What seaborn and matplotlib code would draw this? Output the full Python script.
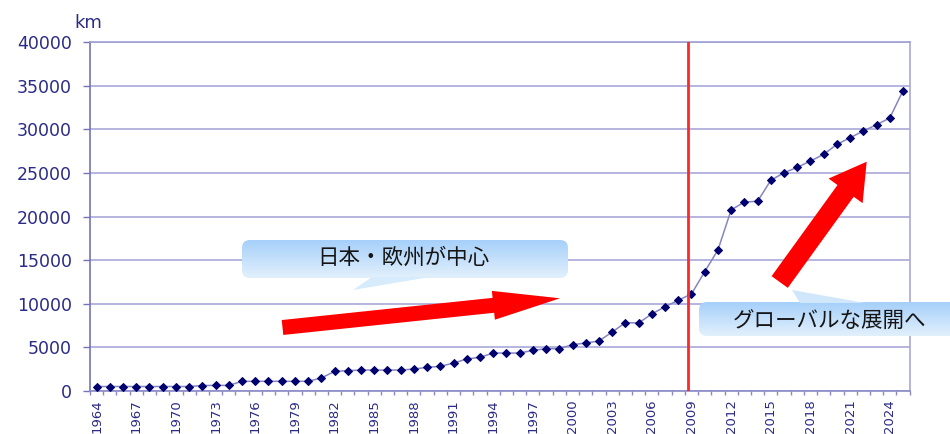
import numpy as np
import pandas as pd
import matplotlib
matplotlib.use('Agg')
import matplotlib.pyplot as plt
import seaborn as sns
from matplotlib.patches import FancyBboxPatch, FancyArrow, Polygon
from matplotlib.colors import LinearSegmentedColormap

sns.set_theme(style='white')
plt.rcParams['font.family'] = ['DejaVu Sans', 'Noto Sans CJK JP']

# %% data (km of high-speed rail)
years = list(range(1964, 2026))
km = [515, 515, 515, 515, 515, 515, 515, 515, 630, 640,
      640, 1110, 1110, 1110, 1110, 1110, 1110, 1490, 2250, 2330,
      2400, 2400, 2400, 2400, 2520, 2710, 2830, 3200, 3670, 3860,
      4350, 4350, 4350, 4660, 4850, 4850, 5310, 5500, 5730, 6760,
      7830, 7800, 8830, 9660, 10400, 11120, 13680, 16160, 20750, 21660,
      21740, 24150, 25020, 25630, 26360, 27120, 28270, 29030, 29800, 30520,
      31290, 34420]
label_years = years[::3]
y_ticks = list(range(0, 40001, 5000))
split_year = 2008.7
txt_left = '日本・欧州が中心'
txt_right = 'グローバルな展開へ'

df = pd.DataFrame({'year': years, 'km': km})

navy = '#2b2b88'
grid_c = '#a0a0d4'

# %% figure
W, H = 950, 434
fig = plt.figure(figsize=(W / 100, H / 100), dpi=100)
ax = fig.add_axes([90 / W, 1 - 391 / H, (909.6 - 90) / W, (391 - 42) / H])

sns.lineplot(data=df, x='year', y='km', ax=ax, color='#8585c2', lw=1.1,
             marker='D', markersize=4.5, markerfacecolor='#00006e',
             markeredgecolor='#00006e', zorder=3)
ax.axvline(split_year, color='#ff2828', lw=2, zorder=4)

ax.set_xlim(1963.5, 2025.5)
ax.set_ylim(0, 40000)
ax.set_xlabel('')
ax.set_ylabel('')
ax.yaxis.grid(True, color=grid_c, lw=1.1)
ax.set_axisbelow(True)

ax.set_yticks(y_ticks)
ax.set_yticklabels([str(v) for v in y_ticks])
ax.set_xticks(label_years)
ax.set_xticklabels([str(y) for y in label_years], rotation=90)
ax.set_xticks(np.arange(1963.5, 2026, 1), minor=True)

ax.tick_params(axis='x', which='major', length=0, pad=6,
               labelsize=9.5, labelcolor=navy)
ax.tick_params(axis='x', which='minor', length=3, width=1,
               color='#8a8ac6', bottom=True)
ax.tick_params(axis='y', length=5, width=1, color='#7474b8', pad=8,
               labelsize=12.5, labelcolor=navy, left=True)

ax.spines['left'].set_color('#7474b8')
ax.spines['bottom'].set_color('#8a8ac6')
ax.spines['right'].set_color('#a8a8d8')
ax.spines['top'].set_color(grid_c)
for s in ax.spines.values():
    s.set_linewidth(1.2)

fig.text(74 / W, 1 - 23 / H, 'km', ha='left', va='center',
         fontsize=13, color=navy)

# %% overlay in pixel coordinates for arrows and callouts
ov = fig.add_axes([0, 0, 1, 1], zorder=5)
ov.patch.set_alpha(0)
ov.axis('off')

cmap = LinearSegmentedColormap.from_list('callout', ['#a6d0fa', '#e2f0fc'])


def callout(x0, y0, x1, y1, ptr, ptr_c, text, tx, ty):
    box = FancyBboxPatch((x0, y0), x1 - x0, y1 - y0,
                         boxstyle='round,pad=0,rounding_size=8',
                         fc='none', ec='none')
    ov.add_patch(box)
    grad = np.linspace(0, 1, 64).reshape(-1, 1)
    im = ov.imshow(grad, cmap=cmap, extent=(x0, x1, y1, y0),
                   aspect='auto', zorder=1)
    im.set_clip_path(box)
    ov.add_patch(Polygon(ptr, closed=True, fc=ptr_c, ec='none', zorder=1))
    ov.text(tx, ty, text, ha='center', va='center', fontsize=15.5,
            color='#151515', family=['Noto Sans CJK JP', 'DejaVu Sans'],
            zorder=2)


callout(242, 240, 568, 278, [(372, 277), (430, 277), (353, 290)],
        '#d6ebfc', txt_left, 403, 258)
callout(699, 302, 962, 336, [(800, 303), (865, 303), (792, 290)],
        '#cfe6fb', txt_right, 830, 321)

ov.add_patch(FancyArrow(282.5, 327.5, 277.5, -29.2, width=15, head_width=29,
                        head_length=67, length_includes_head=True,
                        fc='#ff0000', ec='none', zorder=3))
ov.add_patch(FancyArrow(779.7, 282, 87, -120.3, width=20, head_width=42,
                        head_length=36, length_includes_head=True,
                        fc='#ff0000', ec='none', zorder=3))

ov.set_xlim(0, W)
ov.set_ylim(H, 0)

fig.savefig('out.png', dpi=100)
